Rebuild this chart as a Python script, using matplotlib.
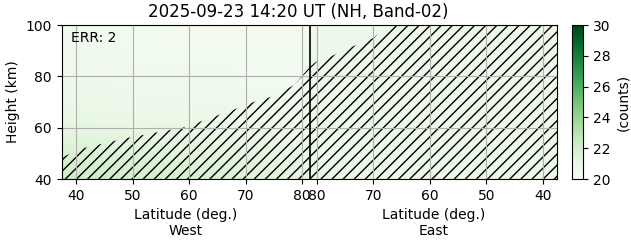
import matplotlib
matplotlib.use("Agg")
import matplotlib.pyplot as plt
import numpy as np

heights = [40, 50, 60, 70, 80, 90, 100]
west_lats = [37.5, 50, 60, 70, 81.3]
east_lats = [81.3, 70, 60, 50, 37.5]
west_counts = [
    [22.2, 22.0, 21.8, 21.5, 21.2],
    [21.7, 21.5, 21.3, 21.1, 20.9],
    [21.1, 21.0, 20.9, 20.7, 20.6],
    [20.8, 20.7, 20.6, 20.5, 20.5],
    [20.6, 20.5, 20.5, 20.4, 20.4],
    [20.5, 20.4, 20.4, 20.4, 20.4],
    [20.4, 20.4, 20.3, 20.3, 20.3],
]
east_counts = [
    [20.9, 20.8, 20.8, 20.8, 20.8],
    [20.8, 20.8, 20.8, 20.8, 20.8],
    [20.8, 20.8, 20.7, 20.7, 20.7],
    [20.7, 20.7, 20.7, 20.7, 20.7],
    [20.7, 20.7, 20.7, 20.7, 20.7],
    [20.7, 20.7, 20.7, 20.7, 20.7],
    [20.6, 20.6, 20.6, 20.6, 20.6],
]

# top of the hatched (invalid) region
west_mask_lat = [37.5, 41.2, 49, 59.4, 68.6, 71.4, 74.5, 78.6, 80.3, 81.3]
west_mask_top = [48.5, 52, 56, 60.3, 67.6, 70, 72, 76.6, 81, 83.6]
east_mask_lat = [81.3, 80.2, 77, 73.5, 70, 67, 37.5]
east_mask_top = [83.6, 85.6, 88.3, 91.8, 95, 100, 100]

tick_lats = [40, 50, 60, 70, 80]
err_count = 2
title = "2025-09-23 14:20 UT (NH, Band-02)"

# single axis: west runs left->right, east mirrored after the boundary
boundary = 81.3
def east_x(lat):
    return 2 * boundary - np.asarray(lat, dtype=float)

fig = plt.figure(figsize=(6.31, 2.43), dpi=100)
ax = fig.add_axes([0.098, 0.263, 0.785, 0.634])
cax = fig.add_axes([0.9065, 0.263, 0.0174, 0.634])

mesh = ax.pcolormesh(west_lats, heights, west_counts, cmap='Greens', vmin=20, vmax=30,
                     shading='gouraud')
ax.pcolormesh(east_x(east_lats), heights, east_counts, cmap='Greens', vmin=20, vmax=30,
              shading='gouraud')

ax.fill_between(west_mask_lat, 40, west_mask_top, facecolor='none', edgecolor='black',
                hatch='///', linewidth=0)
ax.fill_between(east_x(east_mask_lat), 40, east_mask_top, facecolor='none', edgecolor='black',
                hatch='///', linewidth=0)

ax.axvline(boundary, color='black', linewidth=1.2)

ax.set_xlim(37.5, east_x(37.5))
ax.set_ylim(40, 100)
ax.set_xticks(list(tick_lats) + list(east_x(tick_lats[::-1])))
ax.set_xticklabels([str(t) for t in tick_lats] + [str(t) for t in tick_lats[::-1]])
ax.set_yticks([40, 60, 80, 100])
ax.tick_params(labelsize=10)
ax.grid(True, color='#b0b0b0', linewidth=0.8)
ax.set_ylabel('Height (km)', fontsize=10)
ax.set_title(title, fontsize=12, x=0.477)

ax.text(0.018, 0.915, f'ERR: {err_count}', transform=ax.transAxes, va='center', ha='left',
        fontsize=10)

ax.text((37.5 + boundary) / 2, -0.185, 'Latitude (deg.)\nWest', transform=ax.get_xaxis_transform(),
        ha='center', va='top', fontsize=10)
ax.text(east_x((37.5 + boundary) / 2), -0.185, 'Latitude (deg.)\nEast',
        transform=ax.get_xaxis_transform(), ha='center', va='top', fontsize=10)

cb = fig.colorbar(mesh, cax=cax)
cb.set_ticks([20, 22, 24, 26, 28, 30])
cb.ax.tick_params(labelsize=10)
cb.set_label('(counts)', fontsize=10)

fig.savefig('out.png', dpi=100)
